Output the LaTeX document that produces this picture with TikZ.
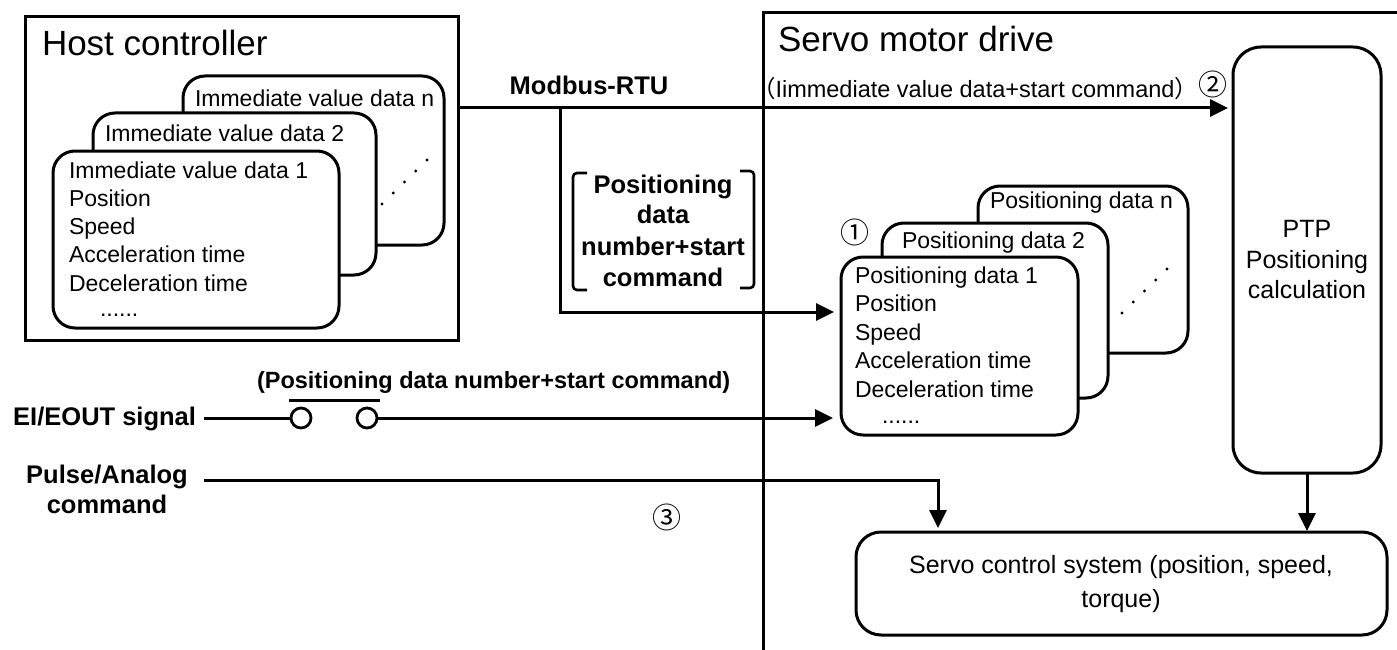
\documentclass[tikz,border=0pt]{standalone}
\usepackage{fontspec}
\setmainfont{Liberation Sans}
\newfontfamily\cjk{Noto Sans CJK SC}
\usetikzlibrary{arrows.meta,calc}
\begin{document}
\begin{tikzpicture}[x=1pt,y=-1pt,
  every node/.style={inner sep=0pt,outer sep=0pt},
  ln/.style={line width=3pt},
  arr/.style={line width=3pt,-{Triangle[length=18pt,width=17pt]}},
  frame/.style={draw,line width=3pt,anchor=north west},
  card/.style={draw,line width=3pt,fill=white,rounded corners=22pt,anchor=north west},
  title/.style={font=\fontsize{35}{40}\selectfont,anchor=base west},
  body/.style={font=\fontsize{23}{27}\selectfont,anchor=base west},
  mid/.style={font=\fontsize{25}{29}\selectfont,anchor=base},
  blab/.style={font=\fontsize{25.5}{30}\selectfont\bfseries,anchor=base},
  slab/.style={font=\fontsize{23.5}{28}\selectfont\bfseries,anchor=base west},
  circ/.style={font=\fontsize{29}{31}\selectfont\cjk},
  dot/.style={fill=black}
]
\useasboundingbox (0,0) rectangle (1397,650);

% ---------- Host controller ----------
\node[frame,minimum width=433pt,minimum height=323pt] (host) at (25,17) {};
\node[title] (hosttitle) at (42,56) {Host controller};

\node[card,minimum width=261pt,minimum height=169pt] (hn) at (183,76) {};
\node[body] (hnt) at (195,107) {Immediate value data n};
\node[card,minimum width=283pt,minimum height=162pt] (h2) at (93,113) {};
\node[body] (h2t) at (105,142) {Immediate value data 2};
\node[card,minimum width=286pt,minimum height=177pt] (h1) at (53,151) {};
\foreach \t [count=\i] in {Immediate value data 1,Position,Speed,Acceleration time,Deceleration time}
  \node[body] (h1l\i) at (69,{178+28.3*(\i-1)}) {\t};
\node[body] (h1dots) at (100,316) {......};
\foreach \k in {0,...,4}
  \fill[dot] ({382+11.25*\k},{204-11*\k}) circle (1.6pt);

% ---------- Servo motor drive ----------
\node[frame,minimum width=700pt,minimum height=700pt] (drive) at (763,13) {};
\node[title] (drivetitle) at (778,52) {Servo motor drive};

\node[draw,line width=3pt,rounded corners=28pt,minimum width=148pt,minimum height=426pt,anchor=north west] (ptp) at (1233,47) {};
\node[mid] (ptp1) at (1307,237) {PTP};
\node[mid] (ptp2) at (1307,268) {Positioning};
\node[mid] (ptp3) at (1307,298) {calculation};

\node[card,minimum width=210pt,minimum height=167pt] (pn) at (978,186) {};
\node[body] (pnt) at (990,208) {Positioning data n};
\node[card,minimum width=226pt,minimum height=175pt] (p2) at (882,223) {};
\node[body] (p2t) at (902,248) {Positioning data 2};
\node[card,minimum width=237pt,minimum height=178pt] (p1) at (841,257) {};
\foreach \t [count=\i] in {Positioning data 1,Position,Speed,Acceleration time,Deceleration time}
  \node[body] (p1l\i) at (855,{283+28.5*(\i-1)}) {\t};
\node[body] (p1dots) at (882,423) {......};
\foreach \k in {0,...,4}
  \fill[dot] ({1122+11.25*\k},{313-11*\k}) circle (1.6pt);

\node[draw,line width=3pt,rounded corners=25pt,minimum width=531pt,minimum height=103pt,anchor=north west] (scs) at (856,532) {};
\node[mid] (scs1) at (1121,573) {Servo control system (position, speed,};
\node[mid] (scs2) at (1121,607) {torque)};

% ---------- labels ----------
\node[blab] (modbus) at (589,95) {Modbus-RTU};
\node[body,font=\fontsize{23.5}{27}\selectfont] (imm) at (752,98) {{\cjk （}Iimmediate value data+start command{\cjk ）}};
\node[circ] (n2) at (1213,84) {②};
\node[circ] (n1) at (855,232) {①};
\node[circ] (n3) at (667,517) {③};

\node[blab] (bl1) at (663,193) {Positioning};
\node[blab] (bl2) at (663,223) {data};
\node[blab] (bl3) at (663,255) {number+start};
\node[blab] (bl4) at (663,286) {command};
\draw[line width=2.6pt,rounded corners=4pt] (587,173) -- (573,173) -- (573,290) -- (587,290);
\draw[line width=2.6pt,rounded corners=4pt] (740,171) -- (754,171) -- (754,288) -- (740,288);

\node[blab,anchor=base east] (eisig) at (196,425) {EI/EOUT signal};
\node[slab] (eilab) at (257,388) {(Positioning data number+start command)};
\node[blab] (pa1) at (107,483) {Pulse/Analog};
\node[blab] (pa2) at (107,513) {command};

% ---------- connectors ----------
\coordinate (mstart) at (host.east |- 0,108);
\coordinate (br) at (560,108);
\draw[arr,shorten >=5pt] (mstart) -- (ptp.west |- mstart);
\draw[arr,shorten >=7pt] (br) |- (p1.west |- 0,312);

\coordinate (ei0) at (204,418);
\node[circle,draw,line width=2.8pt,minimum size=20pt] (c1) at (301,418) {};
\node[circle,draw,line width=2.8pt,minimum size=20pt] (c2) at (367,418) {};
\draw[ln] (ei0) -- (c1.west);
\draw[ln] ([shift={(-12,-18)}]c1.center) -- ([shift={(13,-18)}]c2.center);
\draw[arr,shorten >=8pt] (c2.east) -- (p1.west |- c2.east);

\coordinate (p0) at (204,480);
\draw[arr,shorten >=4pt] (p0) -| (scs.north -| 938,0);
\draw[arr,shorten >=1pt] (ptp.south) -- (scs.north -| ptp.south);
\end{tikzpicture}
\end{document}
